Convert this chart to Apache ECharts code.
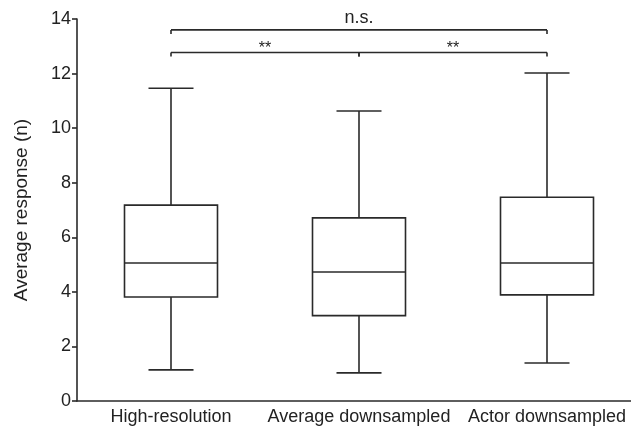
<!DOCTYPE html>
<html>
<head>
<meta charset="utf-8">
<script src="https://cdn.jsdelivr.net/npm/echarts@6/dist/echarts.min.js"></script>
<style>
html, body { margin: 0; padding: 0; background: #fff; overflow: hidden; }
#chart { width: 641px; height: 435px; }
</style>
</head>
<body>
<div id="chart"></div>
<script>
// categories and box values: [min, Q1, median, Q3, max]
var categories = ['High-resolution', 'Average downsampled', 'Actor downsampled'];
var boxMin = [1.14, 1.03, 1.39];
var boxQ1 = [3.81, 3.13, 3.89];
var boxMedian = [5.06, 4.73, 5.06];
var boxQ3 = [7.18, 6.71, 7.47];
var boxMax = [11.46, 10.63, 12.02];
var yTicks = [0, 2, 4, 6, 8, 10, 12, 14];
// significance brackets: [from, to, height, label]
var brackets = [
    [0, 1, 12.77, '**'],
    [1, 2, 12.77, '**'],
    [0, 2, 13.6, 'n.s.']
];

var lineColor = '#2a2a2a';
var fontFamily = '"Liberation Sans", Arial, sans-serif';

var boxData = categories.map(function (c, i) {
    return [i, boxMin[i], boxQ1[i], boxMedian[i], boxQ3[i], boxMax[i]];
});

var chart = echarts.init(document.getElementById('chart'));

function renderBox(params, api) {
    var x = api.value(0);
    var half = 46.5;
    var cap = 22.5;
    var pMin = api.coord([x, api.value(1)]);
    var pQ1 = api.coord([x, api.value(2)]);
    var pMed = api.coord([x, api.value(3)]);
    var pQ3 = api.coord([x, api.value(4)]);
    var pMax = api.coord([x, api.value(5)]);
    var cx = pMin[0];
    var style = { stroke: lineColor, lineWidth: 1.6, fill: null };
    return {
        type: 'group',
        children: [
            { type: 'rect', shape: { x: cx - half, y: pQ3[1], width: half * 2, height: pQ1[1] - pQ3[1] }, style: { stroke: lineColor, lineWidth: 1.6, fill: '#fff' } },
            { type: 'line', shape: { x1: cx - half, y1: pMed[1], x2: cx + half, y2: pMed[1] }, style: style },
            { type: 'line', shape: { x1: cx, y1: pQ3[1], x2: cx, y2: pMax[1] }, style: style },
            { type: 'line', shape: { x1: cx, y1: pQ1[1], x2: cx, y2: pMin[1] }, style: style },
            { type: 'line', shape: { x1: cx - cap, y1: pMax[1], x2: cx + cap, y2: pMax[1] }, style: style },
            { type: 'line', shape: { x1: cx - cap, y1: pMin[1], x2: cx + cap, y2: pMin[1] }, style: style }
        ]
    };
}

function renderBracket(params, api) {
    var p1 = api.coord([api.value(0), api.value(2)]);
    var p2 = api.coord([api.value(1), api.value(2)]);
    var label = brackets[params.dataIndex][3];
    var big = label === 'n.s.';
    var style = { stroke: lineColor, lineWidth: 1.6, fill: null };
    return {
        type: 'group',
        children: [
            { type: 'line', shape: { x1: p1[0], y1: p1[1], x2: p2[0], y2: p2[1] }, style: style },
            { type: 'line', shape: { x1: p1[0], y1: p1[1], x2: p1[0], y2: p1[1] + 4 }, style: style },
            { type: 'line', shape: { x1: p2[0], y1: p2[1], x2: p2[0], y2: p2[1] + 4 }, style: style },
            {
                type: 'text',
                style: {
                    x: (p1[0] + p2[0]) / 2,
                    y: big ? p1[1] - 3 : p1[1] - 4,
                    text: label,
                    align: 'center',
                    verticalAlign: big ? 'bottom' : 'middle',
                    fill: '#222',
                    font: (big ? '18px ' : '16px ') + fontFamily
                }
            }
        ]
    };
}

var option = {
    animation: false,
    backgroundColor: '#fff',
    textStyle: { fontFamily: fontFamily },
    grid: { left: 77, right: 0, top: 19, bottom: 34 },
    xAxis: {
        type: 'category',
        data: categories,
        boundaryGap: true,
        axisLine: { lineStyle: { color: lineColor, width: 1.6 } },
        axisTick: { alignWithLabel: true, length: 4, lineStyle: { color: lineColor, width: 1.6 } },
        axisLabel: { color: '#222', fontSize: 18, margin: 7, interval: 0 },
        splitLine: { show: false }
    },
    yAxis: {
        type: 'value',
        min: yTicks[0],
        max: yTicks[yTicks.length - 1],
        interval: 2,
        name: 'Average response (n)',
        nameLocation: 'middle',
        nameGap: 46,
        nameTextStyle: { color: '#222', fontSize: 19 },
        axisLine: { show: true, lineStyle: { color: lineColor, width: 1.6 } },
        axisTick: { show: true, length: 5, lineStyle: { color: lineColor, width: 1.6 } },
        axisLabel: { color: '#222', fontSize: 18, margin: 6 },
        splitLine: { show: false }
    },
    series: [
        {
            type: 'custom',
            renderItem: renderBox,
            encode: { x: 0, y: [1, 2, 3, 4, 5] },
            data: boxData
        },
        {
            type: 'custom',
            renderItem: renderBracket,
            encode: { x: [0, 1], y: 2 },
            data: brackets.map(function (b) { return [b[0], b[1], b[2]]; })
        }
    ]
};

chart.setOption(option);
</script>
</body>
</html>
